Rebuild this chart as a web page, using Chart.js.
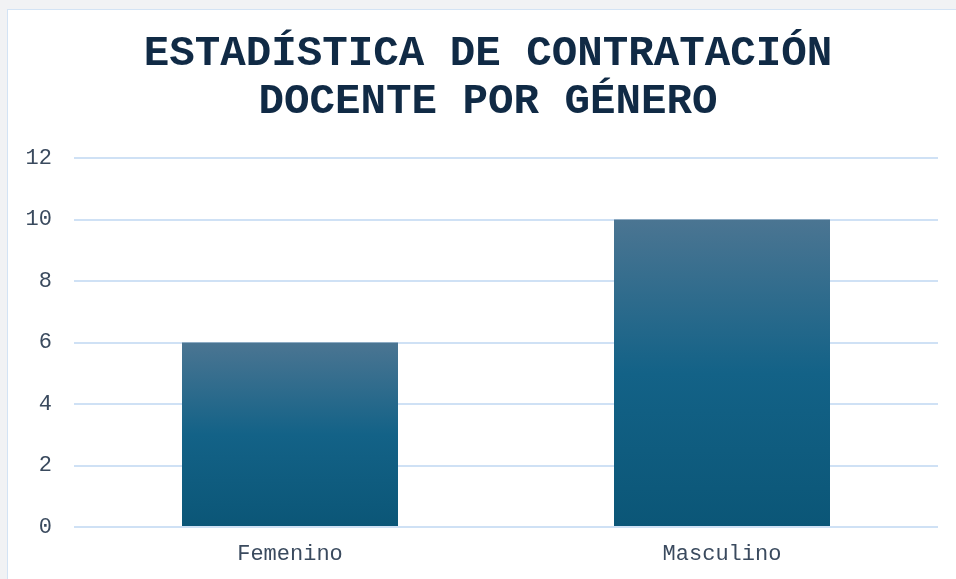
<!DOCTYPE html>
<html>
<head>
<meta charset="utf-8">
<script src="https://cdn.jsdelivr.net/npm/chart.js@4.4.1/dist/chart.umd.min.js"></script>
<style>
  html, body { margin: 0; padding: 0; }
  body { background: #f1f2f4; width: 956px; height: 579px; overflow: hidden; position: relative; }
  .card { position: absolute; left: 7px; top: 9px; width: 1000px; height: 620px; background: #fff; border: 1px solid #d3e3f4; }
  #chart { position: absolute; left: 0; top: 0; }
</style>
</head>
<body>
<div class="card"></div>
<canvas id="chart" width="956" height="585"></canvas>
<script>
// Datos
const categorias = ['Femenino', 'Masculino'];
const contrataciones = [6, 10];
const tituloLineas = ['ESTADÍSTICA DE CONTRATACIÓN', 'DOCENTE POR GÉNERO'];
const yMax = 12;
const yPaso = 2;

const mono = "'Liberation Mono', 'Courier New', monospace";

// Degradado por barra (de arriba hacia la base)
function degradado(context) {
    const chart = context.chart;
    if (!chart.chartArea) return '#146487';
    const y = chart.scales.y;
    const top = y.getPixelForValue(context.raw);
    const bottom = y.getPixelForValue(0);
    const g = chart.ctx.createLinearGradient(0, top, 0, bottom);
    g.addColorStop(0, '#4b7592');
    g.addColorStop(0.5, '#136287');
    g.addColorStop(1, '#0b5677');
    return g;
}

// el título va centrado sobre la tarjeta, no sobre el área del gráfico
const moverTitulo = {
    id: 'moverTitulo',
    afterLayout(chart) {
        if (chart.titleBlock) chart.titleBlock.left += 14;
    }
};

const ctx = document.getElementById('chart').getContext('2d');
new Chart(ctx, {
    type: 'bar',
    data: {
        labels: categorias,
        datasets: [{
            label: 'Docentes',
            data: contrataciones,
            backgroundColor: degradado,
            barPercentage: 0.5,
            categoryPercentage: 1,
        }]
    },
    options: {
        responsive: false,
        animation: false,
        layout: { padding: { left: 24, right: 18, top: 0, bottom: 4 } },
        plugins: {
            legend: { display: false },
            tooltip: { enabled: false },
            title: {
                display: true,
                text: tituloLineas,
                color: '#102a45',
                font: { family: mono, size: 42.5, weight: 'bold', lineHeight: 48 / 42.5 },
                padding: { top: 30, bottom: 32 },
            },
        },
        scales: {
            y: {
                min: 0,
                max: yMax,
                ticks: { stepSize: yPaso, padding: 22, color: '#3a4a5e', font: { family: mono, size: 22 } },
                grid: { color: '#cfe1f5', lineWidth: 2, drawTicks: false },
                border: { display: false },
                afterFit: (scale) => { scale.width = 50; },
            },
            x: {
                ticks: { padding: 13.8, color: '#3a4a5e', font: { family: mono, size: 22 } },
                grid: { display: false, drawTicks: false },
                border: { display: false },
            }
        }
    },
    plugins: [moverTitulo]
});
</script>
</body>
</html>
